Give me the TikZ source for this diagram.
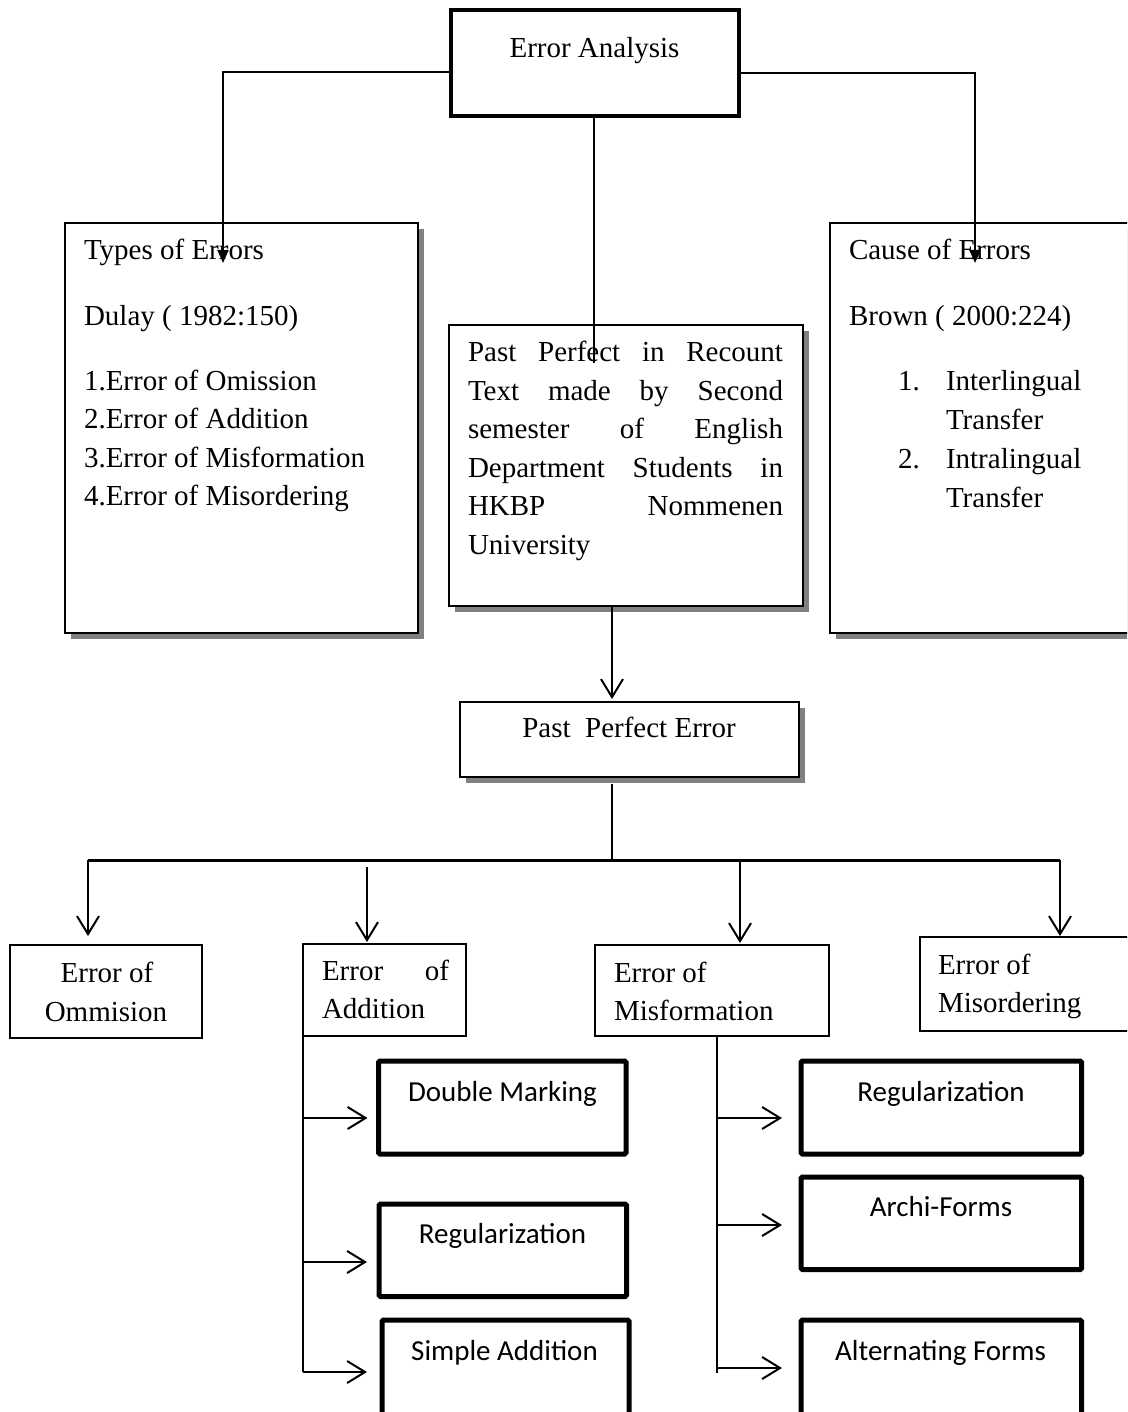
\documentclass[tikz,border=0pt]{standalone}
\usepackage{fontspec}
\setmainfont{Liberation Serif}
\newfontfamily\carl{Carlito}
\usetikzlibrary{arrows.meta,shadows}
\begin{document}
\begin{tikzpicture}[x=1pt,y=-1pt,
  every node/.style={inner sep=0pt, outer sep=0pt, font=\fontsize{29}{38.6}\selectfont},
  plainbox/.style={draw, line width=2pt, fill=white, anchor=north west},
  shbox/.style={plainbox, drop shadow={shadow xshift=6pt, shadow yshift=-6pt, fill=black!50, opacity=1}},
  sbox/.style={draw, line width=5pt, rounded corners=1.5pt, fill=white, anchor=north west},
  lbl/.style={anchor=base west},
  clbl/.style={anchor=base},
  sl/.style={anchor=base, font=\carl\fontsize{29}{38.6}\selectfont},
  conn/.style={line width=2pt},
  tri/.style={conn, -{Triangle[length=13pt,width=11pt]}},
  barb/.style={conn, -{Straight Barb[length=18pt,width=22pt]}},
]
\useasboundingbox (0,0) rectangle (1127,1412);
\clip (0,0) rectangle (1127,1412);
\fill[white] (0,0) rectangle (1127,1412);

% boxes
\node[plainbox, line width=4pt, minimum width=288pt, minimum height=106pt] (ea) at (451,10) {};
\node[shbox, minimum width=353.5pt, minimum height=410pt] (types) at (64.5,223) {};
\node[shbox, minimum width=354pt, minimum height=281pt] (pp) at (449,325) {};
\node[shbox, minimum width=400pt, minimum height=410pt] (cause) at (830,223) {};
\node[shbox, minimum width=339pt, minimum height=75pt] (ppe) at (460,702) {};
\node[plainbox, minimum width=192pt, minimum height=93pt] (om) at (10,945) {};
\node[plainbox, minimum width=163pt, minimum height=92pt] (add) at (303,944) {};
\node[plainbox, minimum width=234pt, minimum height=91pt] (misf) at (595,945) {};
\node[plainbox, minimum width=300pt, minimum height=94pt] (misord) at (920,937) {};
\node[sbox, minimum width=247.5pt, minimum height=93pt] (dm) at (378.5,1061) {};
\node[sbox, minimum width=247.5pt, minimum height=92.5pt] (rg1) at (379,1204) {};
\node[sbox, minimum width=247pt, minimum height=130pt] (sa) at (382,1320) {};
\node[sbox, minimum width=280.5pt, minimum height=93pt] (rg2) at (801,1061) {};
\node[sbox, minimum width=280.5pt, minimum height=92.7pt] (af) at (801,1177) {};
\node[sbox, minimum width=280.5pt, minimum height=130pt] (alt) at (801,1320) {};

% texts
\node[clbl] (eat) at (594.5,58) {Error Analysis};
\node[lbl] (ty1) at (84,260) {Types of Errors};
\node[lbl] (ty2) at (84,325) {Dulay ( 1982:150)};
\node[lbl] (ty3) at (84,390) {1.Error of Omission};
\node[lbl] (ty4) at (84,428.6) {2.Error of Addition};
\node[lbl] (ty5) at (84,467.2) {3.Error of Misformation};
\node[lbl] (ty6) at (84,505.8) {4.Error of Misordering};

\node[lbl] (pp1) at (468,361.5) {\makebox[315pt][s]{Past Perfect in Recount}};
\node[lbl] (pp2) at (468,400) {\makebox[315pt][s]{Text made by Second}};
\node[lbl] (pp3) at (468,438.5) {\makebox[315pt][s]{semester of English}};
\node[lbl] (pp4) at (468,477) {\makebox[315pt][s]{Department Students in}};
\node[lbl] (pp5) at (468,515.5) {\makebox[315pt][s]{HKBP Nommenen}};
\node[lbl] (pp6) at (468,554) {University};

\node[lbl] (ca1) at (849,260) {Cause of Errors};
\node[lbl] (ca2) at (849,325) {Brown ( 2000:224)};
\node[lbl] (ca3n) at (898,390) {1.};
\node[lbl] (ca3) at (946,390) {Interlingual};
\node[lbl] (ca4) at (946,429) {Transfer};
\node[lbl] (ca5n) at (898,468) {2.};
\node[lbl] (ca5) at (946,468) {Intralingual};
\node[lbl] (ca6) at (946,507) {Transfer};

\node[clbl] (ppet) at (629,737) {Past\ \ Perfect Error};

\node[clbl] (om1) at (107,982) {Error of};
\node[clbl] (om2) at (106,1021) {Ommision};
\node[lbl] (ad1) at (322,980) {\makebox[127pt][s]{Error of}};
\node[lbl] (ad2) at (322,1018) {Addition};
\node[lbl] (mf1) at (614,982) {Error of};
\node[lbl] (mf2) at (614,1020) {Misformation};
\node[lbl] (mo1) at (938,974) {Error of};
\node[lbl] (mo2) at (938,1012) {Misordering};

\node[sl] (dmt) at (502.5,1101) {Double Marking};
\node[sl] (rg1t) at (502.5,1243) {Regularization};
\node[sl] (sat) at (504.5,1360) {Simple Addition};
\node[sl] (rg2t) at (941,1101.5) {Regularization};
\node[sl] (aft) at (941,1216) {Archi-Forms};
\node[sl] (altt) at (940.5,1360) {Alternating Forms};

% connectors
\coordinate (yl) at (0,72);
\coordinate (yr) at (0,73.5);
\coordinate (tl) at (223,263);
\coordinate (tr) at (975,263);
\coordinate (cm) at (594,363);
\draw[tri] (ea.west |- yl) -| (tl);
\draw[tri] (ea.east |- yr) -| (tr);
\draw[conn] (ea.south -| cm) -- (cm);

\coordinate (xp) at (612,0);
\draw[barb, shorten >=3pt] (pp.south -| xp) -- (ppe.north -| xp);
\coordinate (bj) at (612,860);
\draw[conn, shorten <=7pt] (ppe.south -| xp) -- (bj);
\coordinate (bl) at (88,860);
\coordinate (br) at (1060,860);
\draw[line width=3pt] (bl) -- (br);
\coordinate (b2) at (367,867);
\coordinate (b3) at (740,860);
\draw[barb, shorten >=9pt] (bl) -- (bl |- om.north);
\draw[barb, shorten >=2pt] (b2) -- (b2 |- add.north);
\draw[barb, shorten >=2pt] (b3) -- (b3 |- misf.north);
\draw[barb, shorten >=1pt] (br) -- (br |- misord.north);

\coordinate (ae) at (303,1372);
\draw[conn] (add.south west) -- (ae);
\coordinate (a1) at (303,1118);
\coordinate (a2) at (303,1262);
\draw[barb, shorten >=11pt] (a1) -- (a1 -| dm.west);
\draw[barb, shorten >=12pt] (a2) -- (a2 -| rg1.west);
\draw[barb, shorten >=15pt] (ae) -- (ae -| sa.west);

\coordinate (mx) at (717,0);
\coordinate (m4) at (717,1373);
\draw[conn] (misf.south -| mx) -- (m4);
\coordinate (m1) at (717,1118);
\coordinate (m2) at (717,1225);
\coordinate (m3) at (717,1368);
\draw[barb, shorten >=19pt] (m1) -- (m1 -| rg2.west);
\draw[barb, shorten >=19pt] (m2) -- (m2 -| af.west);
\draw[barb, shorten >=19pt] (m3) -- (m3 -| alt.west);
\end{tikzpicture}
\end{document}
